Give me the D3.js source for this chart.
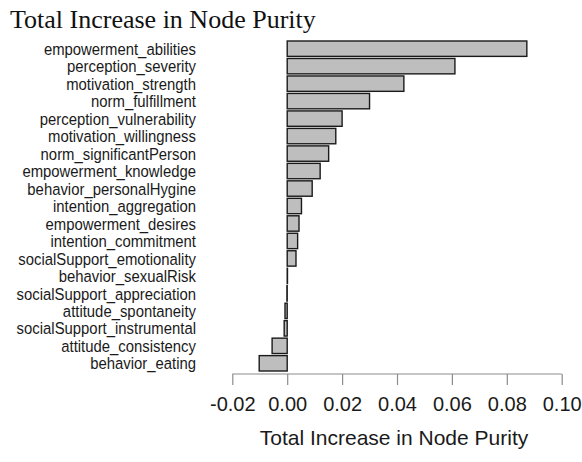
<!DOCTYPE html>
<html>
<head>
<meta charset="utf-8">
<script src="https://cdn.jsdelivr.net/npm/d3@7"></script>
<style>
  body { margin: 0; background: #fff; }
  svg { display: block; }
</style>
</head>
<body>
<div id="chart"></div>
<script>
var variables = ["empowerment_abilities", "perception_severity", "motivation_strength",
    "norm_fulfillment", "perception_vulnerability", "motivation_willingness",
    "norm_significantPerson", "empowerment_knowledge", "behavior_personalHygine",
    "intention_aggregation", "empowerment_desires", "intention_commitment",
    "socialSupport_emotionality", "behavior_sexualRisk", "socialSupport_appreciation",
    "attitude_spontaneity", "socialSupport_instrumental", "attitude_consistency",
    "behavior_eating"];
var purity = [0.0873, 0.0611, 0.0425, 0.0300, 0.0200, 0.0177, 0.0151, 0.0120, 0.0091,
    0.0052, 0.0043, 0.0038, 0.0032, 0.0001, -0.0001, -0.0008, -0.0011, -0.0055, -0.0102];
var xTicks = [-0.02, 0.00, 0.02, 0.04, 0.06, 0.08, 0.10];

var width = 582, height = 462;
var svg = d3.select("#chart").append("svg").attr("width", width).attr("height", height);

var x = d3.scaleLinear().domain([-0.02, 0.10]).range([232.3, 561.7]);
var y = d3.scaleBand().domain(variables).range([41, 371]).paddingInner(0.12).paddingOuter(0);

// title
svg.append("text")
    .attr("x", 10).attr("y", 28)
    .attr("font-family", "'Liberation Serif', 'Times New Roman', serif")
    .attr("font-size", 26).attr("fill", "#111")
    .text("Total Increase in Node Purity");

// bars
svg.selectAll("rect.bar").data(variables).enter().append("rect")
    .attr("class", "bar")
    .attr("x", function(d, i) { return x(Math.min(0, purity[i])); })
    .attr("y", function(d) { return y(d); })
    .attr("width", function(d, i) { return Math.abs(x(purity[i]) - x(0)); })
    .attr("height", y.bandwidth())
    .attr("fill", "#bebebe")
    .attr("stroke", "#1a1a1a")
    .attr("stroke-width", 1.4);

// variable names, slightly condensed like the original
svg.selectAll("text.name").data(variables).enter().append("text")
    .attr("class", "name")
    .attr("transform", function(d) {
        return "translate(196," + (y(d) + y.bandwidth() / 2) + ") scale(0.875,1)";
    })
    .attr("dy", "0.36em")
    .attr("text-anchor", "end")
    .attr("font-family", "'Liberation Sans', Arial, sans-serif")
    .attr("font-size", 17).attr("fill", "#1a1a1a")
    .text(function(d) { return d; });

// x axis, plain hyphen for the minus like R does
var axis = svg.append("g").attr("transform", "translate(0,374)")
    .call(d3.axisBottom(x).tickValues(xTicks).tickSize(11).tickPadding(12)
        .tickFormat(function(d) { return d.toFixed(2); }));
axis.select(".domain").attr("stroke", "#8c8c8c").attr("stroke-width", 1.2)
    .attr("d", "M" + x(-0.02) + ",0H" + x(0.10));
axis.selectAll(".tick line").attr("stroke", "#8c8c8c").attr("stroke-width", 1.2);
axis.selectAll(".tick text")
    .attr("font-family", "'Liberation Sans', Arial, sans-serif")
    .attr("font-size", 20).attr("fill", "#1a1a1a");

svg.append("text")
    .attr("x", 394).attr("y", 445)
    .attr("text-anchor", "middle")
    .attr("font-family", "'Liberation Sans', Arial, sans-serif")
    .attr("font-size", 21).attr("fill", "#1a1a1a")
    .text("Total Increase in Node Purity");
</script>
</body>
</html>
